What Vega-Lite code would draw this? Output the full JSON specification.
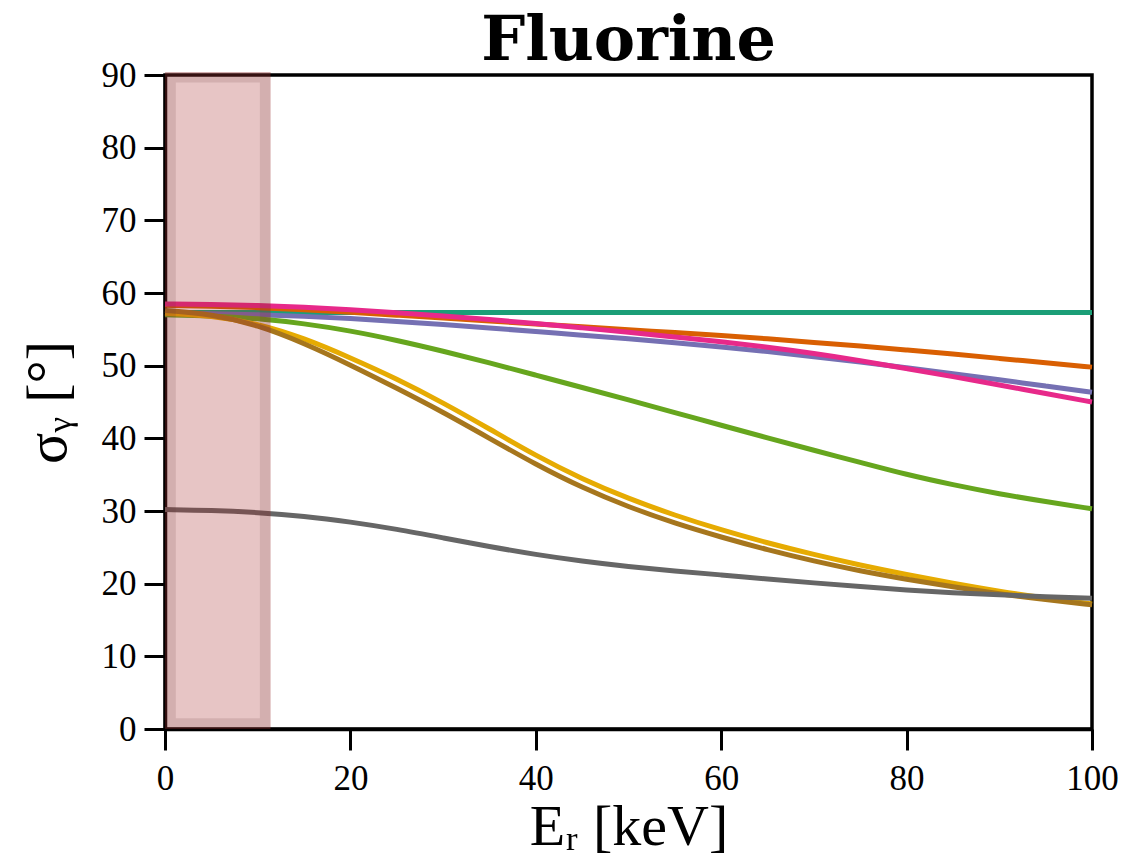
{
  "$schema": "https://vega.github.io/schema/vega-lite/v6.json",
  "width": 927,
  "height": 654,
  "autosize": {"type": "none"},
  "padding": {"left": 165, "top": 75, "right": 31, "bottom": 128},
  "background": "white",
  "title": {"text": "Fluorine", "font": "DejaVu Serif", "fontSize": 62, "fontWeight": "bold", "color": "black", "offset": -15, "anchor": "middle"},
  "config": {
    "view": {"stroke": "black", "strokeWidth": 3.5},
    "axis": {
      "grid": false,
      "domainColor": "black",
      "domainWidth": 3.5,
      "tickColor": "black",
      "tickWidth": 3,
      "tickSize": 21,
      "labelFont": "Liberation Serif",
      "labelFontSize": 35,
      "labelColor": "black",
      "labelFlush": false,
      "titleFont": "Liberation Serif",
      "titleFontSize": 58,
      "titleFontWeight": "normal",
      "titleColor": "black"
    },
    "axisX": {"labelPadding": 11, "titlePadding": 2},
    "axisY": {"labelPadding": 8, "titlePadding": 24}
  },
  "datasets": {
    "curves": [
      {"x":0,"y":57.3,"s":"s1"},{"x":5,"y":57.3,"s":"s1"},{"x":10,"y":57.3,"s":"s1"},{"x":15,"y":57.3,"s":"s1"},{"x":20,"y":57.3,"s":"s1"},{"x":25,"y":57.3,"s":"s1"},{"x":30,"y":57.3,"s":"s1"},{"x":35,"y":57.3,"s":"s1"},{"x":40,"y":57.3,"s":"s1"},{"x":45,"y":57.3,"s":"s1"},{"x":50,"y":57.3,"s":"s1"},{"x":55,"y":57.3,"s":"s1"},{"x":60,"y":57.3,"s":"s1"},{"x":65,"y":57.3,"s":"s1"},{"x":70,"y":57.3,"s":"s1"},{"x":75,"y":57.3,"s":"s1"},{"x":80,"y":57.3,"s":"s1"},{"x":85,"y":57.3,"s":"s1"},{"x":90,"y":57.3,"s":"s1"},{"x":95,"y":57.3,"s":"s1"},{"x":100,"y":57.3,"s":"s1"},
      {"x":0,"y":58.3,"s":"s2"},{"x":5,"y":58.2,"s":"s2"},{"x":10,"y":58.0,"s":"s2"},{"x":15,"y":57.7,"s":"s2"},{"x":20,"y":57.35,"s":"s2"},{"x":25,"y":56.95,"s":"s2"},{"x":30,"y":56.55,"s":"s2"},{"x":35,"y":56.15,"s":"s2"},{"x":40,"y":55.75,"s":"s2"},{"x":45,"y":55.35,"s":"s2"},{"x":50,"y":54.95,"s":"s2"},{"x":55,"y":54.55,"s":"s2"},{"x":60,"y":54.15,"s":"s2"},{"x":65,"y":53.7,"s":"s2"},{"x":70,"y":53.2,"s":"s2"},{"x":75,"y":52.7,"s":"s2"},{"x":80,"y":52.15,"s":"s2"},{"x":85,"y":51.6,"s":"s2"},{"x":90,"y":51.0,"s":"s2"},{"x":95,"y":50.4,"s":"s2"},{"x":100,"y":49.8,"s":"s2"},
      {"x":0,"y":57.2,"s":"s3"},{"x":5,"y":57.15,"s":"s3"},{"x":10,"y":57.0,"s":"s3"},{"x":15,"y":56.8,"s":"s3"},{"x":20,"y":56.5,"s":"s3"},{"x":25,"y":56.1,"s":"s3"},{"x":30,"y":55.65,"s":"s3"},{"x":35,"y":55.2,"s":"s3"},{"x":40,"y":54.7,"s":"s3"},{"x":45,"y":54.2,"s":"s3"},{"x":50,"y":53.7,"s":"s3"},{"x":55,"y":53.15,"s":"s3"},{"x":60,"y":52.6,"s":"s3"},{"x":65,"y":51.95,"s":"s3"},{"x":70,"y":51.25,"s":"s3"},{"x":75,"y":50.5,"s":"s3"},{"x":80,"y":49.7,"s":"s3"},{"x":85,"y":48.9,"s":"s3"},{"x":90,"y":48.05,"s":"s3"},{"x":95,"y":47.2,"s":"s3"},{"x":100,"y":46.35,"s":"s3"},
      {"x":0,"y":58.5,"s":"s4"},{"x":5,"y":58.45,"s":"s4"},{"x":10,"y":58.3,"s":"s4"},{"x":15,"y":58.05,"s":"s4"},{"x":20,"y":57.7,"s":"s4"},{"x":25,"y":57.3,"s":"s4"},{"x":30,"y":56.85,"s":"s4"},{"x":35,"y":56.35,"s":"s4"},{"x":40,"y":55.8,"s":"s4"},{"x":45,"y":55.2,"s":"s4"},{"x":50,"y":54.6,"s":"s4"},{"x":55,"y":53.95,"s":"s4"},{"x":60,"y":53.3,"s":"s4"},{"x":65,"y":52.55,"s":"s4"},{"x":70,"y":51.7,"s":"s4"},{"x":75,"y":50.7,"s":"s4"},{"x":80,"y":49.6,"s":"s4"},{"x":85,"y":48.5,"s":"s4"},{"x":90,"y":47.35,"s":"s4"},{"x":95,"y":46.15,"s":"s4"},{"x":100,"y":45.0,"s":"s4"},
      {"x":0,"y":57.0,"s":"s5"},{"x":5,"y":56.9,"s":"s5"},{"x":10,"y":56.5,"s":"s5"},{"x":15,"y":55.8,"s":"s5"},{"x":20,"y":54.8,"s":"s5"},{"x":25,"y":53.5,"s":"s5"},{"x":30,"y":52.0,"s":"s5"},{"x":35,"y":50.4,"s":"s5"},{"x":40,"y":48.7,"s":"s5"},{"x":45,"y":47.0,"s":"s5"},{"x":50,"y":45.3,"s":"s5"},{"x":55,"y":43.55,"s":"s5"},{"x":60,"y":41.8,"s":"s5"},{"x":65,"y":40.05,"s":"s5"},{"x":70,"y":38.35,"s":"s5"},{"x":75,"y":36.7,"s":"s5"},{"x":80,"y":35.0,"s":"s5"},{"x":85,"y":33.6,"s":"s5"},{"x":90,"y":32.35,"s":"s5"},{"x":95,"y":31.3,"s":"s5"},{"x":100,"y":30.3,"s":"s5"},
      {"x":0,"y":57.2,"s":"s6"},{"x":5,"y":56.9,"s":"s6"},{"x":10,"y":55.8,"s":"s6"},{"x":15,"y":53.8,"s":"s6"},{"x":20,"y":51.1,"s":"s6"},{"x":25,"y":48.2,"s":"s6"},{"x":30,"y":44.9,"s":"s6"},{"x":35,"y":41.3,"s":"s6"},{"x":40,"y":37.6,"s":"s6"},{"x":45,"y":34.4,"s":"s6"},{"x":50,"y":31.7,"s":"s6"},{"x":55,"y":29.4,"s":"s6"},{"x":60,"y":27.4,"s":"s6"},{"x":65,"y":25.6,"s":"s6"},{"x":70,"y":24.0,"s":"s6"},{"x":75,"y":22.55,"s":"s6"},{"x":80,"y":21.25,"s":"s6"},{"x":85,"y":20.05,"s":"s6"},{"x":90,"y":18.95,"s":"s6"},{"x":95,"y":18.0,"s":"s6"},{"x":100,"y":17.2,"s":"s6"},
      {"x":0,"y":57.6,"s":"s7"},{"x":5,"y":57.1,"s":"s7"},{"x":10,"y":55.6,"s":"s7"},{"x":15,"y":53.1,"s":"s7"},{"x":20,"y":50.1,"s":"s7"},{"x":25,"y":46.9,"s":"s7"},{"x":30,"y":43.6,"s":"s7"},{"x":35,"y":40.0,"s":"s7"},{"x":40,"y":36.4,"s":"s7"},{"x":45,"y":33.2,"s":"s7"},{"x":50,"y":30.55,"s":"s7"},{"x":55,"y":28.3,"s":"s7"},{"x":60,"y":26.4,"s":"s7"},{"x":65,"y":24.65,"s":"s7"},{"x":70,"y":23.1,"s":"s7"},{"x":75,"y":21.75,"s":"s7"},{"x":80,"y":20.6,"s":"s7"},{"x":85,"y":19.55,"s":"s7"},{"x":90,"y":18.6,"s":"s7"},{"x":95,"y":17.8,"s":"s7"},{"x":100,"y":17.1,"s":"s7"},
      {"x":0,"y":30.2,"s":"s8"},{"x":5,"y":30.1,"s":"s8"},{"x":10,"y":29.8,"s":"s8"},{"x":15,"y":29.3,"s":"s8"},{"x":20,"y":28.5,"s":"s8"},{"x":25,"y":27.5,"s":"s8"},{"x":30,"y":26.3,"s":"s8"},{"x":35,"y":25.1,"s":"s8"},{"x":40,"y":24.0,"s":"s8"},{"x":45,"y":23.1,"s":"s8"},{"x":50,"y":22.35,"s":"s8"},{"x":55,"y":21.75,"s":"s8"},{"x":60,"y":21.2,"s":"s8"},{"x":65,"y":20.65,"s":"s8"},{"x":70,"y":20.1,"s":"s8"},{"x":75,"y":19.6,"s":"s8"},{"x":80,"y":19.1,"s":"s8"},{"x":85,"y":18.75,"s":"s8"},{"x":90,"y":18.45,"s":"s8"},{"x":95,"y":18.2,"s":"s8"},{"x":100,"y":18.0,"s":"s8"}
    ],
    "band": [{"x": 0, "x2": 11.4, "y": 0, "y2": 90.4}],
    "bandEdge": [{"x": 0.6, "x2": 10.8, "y": 0.75, "y2": 89.7}]
  },
  "layer": [
    {
      "data": {"name": "curves"},
      "mark": {"type": "line", "strokeWidth": 5, "interpolate": "basis"},
      "encoding": {
        "x": {"field": "x", "type": "quantitative", "scale": {"domain": [0, 100], "nice": false, "zero": false},
              "axis": {"values": [0, 20, 40, 60, 80, 100], "title": "Eᵣ [keV]"}},
        "y": {"field": "y", "type": "quantitative", "scale": {"domain": [0, 90], "nice": false},
              "axis": {"values": [0, 10, 20, 30, 40, 50, 60, 70, 80, 90], "title": "σᵧ [°]"}},
        "color": {"field": "s", "type": "nominal", "legend": null,
                  "scale": {"domain": ["s1","s2","s3","s4","s5","s6","s7","s8"],
                            "range": ["#1b9e77","#d95f02","#7570b3","#e7298a","#66a61e","#e6ab02","#a6761d","#666666"]}}
      }
    },
    {
      "data": {"name": "band"},
      "mark": {"type": "rect", "color": "#a52a2a", "opacity": 0.27},
      "encoding": {
        "x": {"field": "x", "type": "quantitative",
              "axis": {"values": [0, 20, 40, 60, 80, 100], "title": "Eᵣ [keV]"}},
        "x2": {"field": "x2"},
        "y": {"field": "y", "type": "quantitative",
              "axis": {"values": [0, 10, 20, 30, 40, 50, 60, 70, 80, 90], "title": "σᵧ [°]"}},
        "y2": {"field": "y2"}
      }
    },
    {
      "data": {"name": "bandEdge"},
      "mark": {"type": "rect", "filled": false, "color": "#683939", "strokeOpacity": 0.15, "strokeWidth": 10.5},
      "encoding": {
        "x": {"field": "x", "type": "quantitative",
              "axis": {"values": [0, 20, 40, 60, 80, 100], "title": "Eᵣ [keV]"}},
        "x2": {"field": "x2"},
        "y": {"field": "y", "type": "quantitative",
              "axis": {"values": [0, 10, 20, 30, 40, 50, 60, 70, 80, 90], "title": "σᵧ [°]"}},
        "y2": {"field": "y2"}
      }
    }
  ]
}
